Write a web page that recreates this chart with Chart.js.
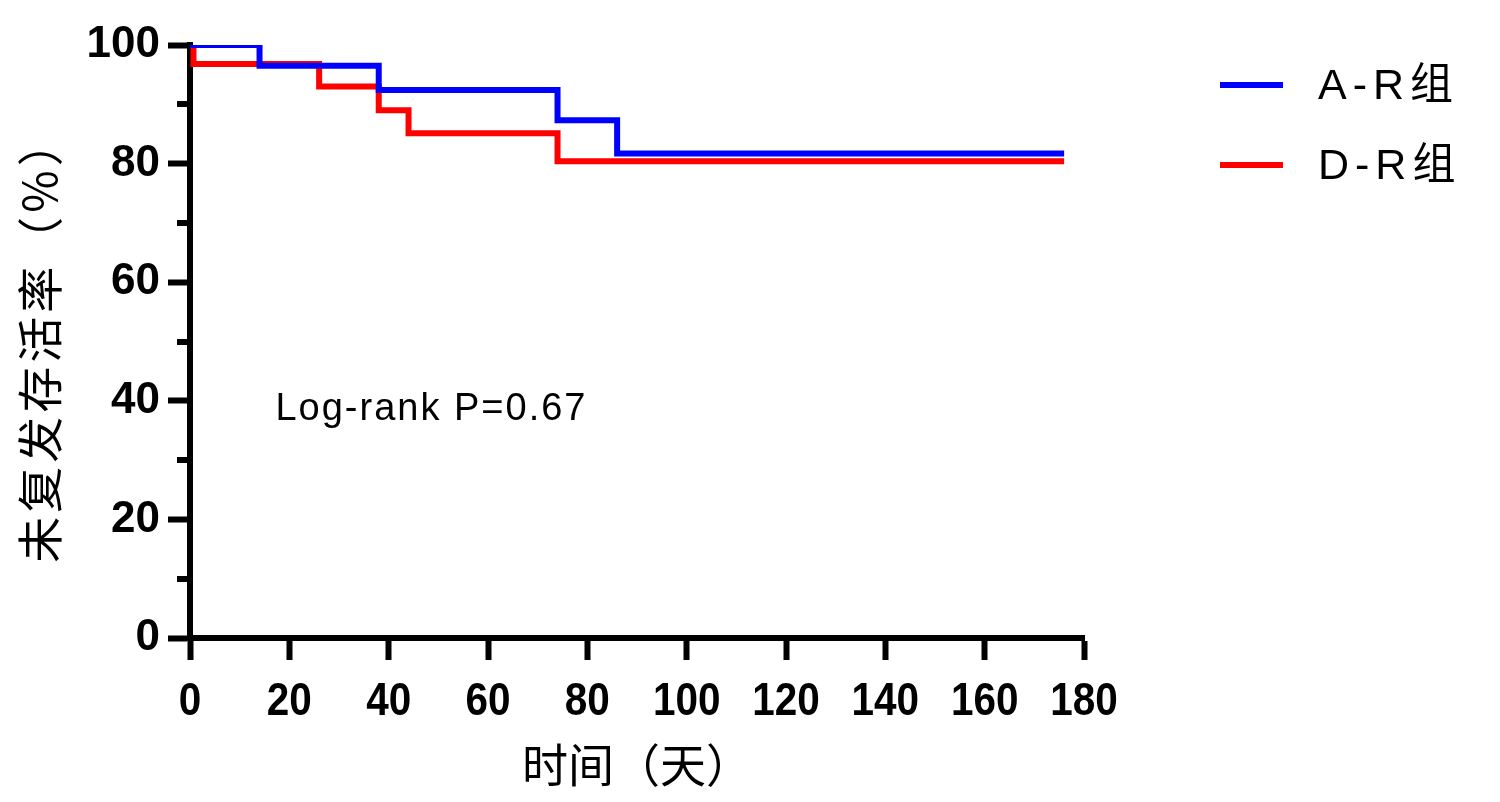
<!DOCTYPE html>
<html>
<head>
<meta charset="utf-8">
<script src="https://cdn.jsdelivr.net/npm/chart.js@4/dist/chart.umd.min.js"></script>
<style>
  html, body { margin: 0; padding: 0; background: #ffffff; }
  #wrap { position: relative; width: 1500px; height: 802px; }
</style>
</head>
<body>
<div id="wrap"><canvas id="c" width="1500" height="802"></canvas></div>
<script>
// ---- data ----
const seriesNames = ['A-R组', 'D-R组'];
const arTimes  = [0, 14, 38, 74, 86, 176];
const arValues = [100, 96.5, 92.4, 87.3, 81.7, 81.7];
const drTimes  = [0, 0.7, 26, 38, 44, 74, 176];
const drValues = [100, 96.8, 93.0, 89.0, 85.1, 80.4, 80.4];
const xTicks = [0, 20, 40, 60, 80, 100, 120, 140, 160, 180];
const yTicks = [0, 20, 40, 60, 80, 100];
const yMinorTicks = [10, 30, 50, 70, 90];
const xTitle = '时间（天）';
const yTitle = '未复发存活率（%）';
const annotationText = 'Log-rank P=0.67';
const annotationPos = { x: 17.2, y: 38.6 };

const toPoints = (t, v) => t.map((x, i) => ({ x: x, y: v[i] }));
const colors = ['#0000ff', '#ff0000'];
const LW = 6;
const cjk = '"Noto Sans CJK SC"';

const extras = {
  id: 'extras',
  afterDraw(chart) {
    const ctx = chart.ctx;
    const xs = chart.scales.x, ys = chart.scales.y;
    ctx.save();
    // minor y ticks
    ctx.strokeStyle = '#000';
    ctx.lineWidth = LW;
    const axisX = xs.left;
    yMinorTicks.forEach(v => {
      const py = Math.round(ys.getPixelForValue(v));
      ctx.beginPath();
      ctx.moveTo(axisX - 13, py);
      ctx.lineTo(axisX, py);
      ctx.stroke();
    });
    // x tick labels (slightly condensed bold)
    ctx.fillStyle = '#000';
    ctx.font = 'bold 46px "Liberation Sans", Arial, sans-serif';
    ctx.textAlign = 'center';
    ctx.textBaseline = 'alphabetic';
    xTicks.forEach(v => {
      const px = xs.getPixelForValue(v);
      ctx.save();
      ctx.translate(px, 715);
      ctx.scale(0.88, 1);
      ctx.fillText(String(v), 0, 0);
      ctx.restore();
    });
    // y axis title
    ctx.save();
    ctx.translate(40, (ys.top + ys.bottom) / 2 - 2);
    ctx.rotate(-Math.PI / 2);
    ctx.font = '46px ' + cjk + ', sans-serif';
    if ('letterSpacing' in ctx) ctx.letterSpacing = '4px';
    ctx.textAlign = 'center';
    ctx.textBaseline = 'middle';
    ctx.fillText(yTitle, 0, 0);
    ctx.restore();
    // annotation
    ctx.font = '38px "Liberation Sans", Arial, sans-serif';
    if ('letterSpacing' in ctx) ctx.letterSpacing = '2px';
    ctx.textBaseline = 'middle';
    ctx.textAlign = 'left';
    ctx.fillText(annotationText, xs.getPixelForValue(annotationPos.x), ys.getPixelForValue(annotationPos.y));
    // legend
    const legY = [85, 165];
    seriesNames.forEach((name, i) => {
      ctx.strokeStyle = colors[i];
      ctx.lineWidth = LW;
      ctx.beginPath();
      ctx.moveTo(1220, legY[i]);
      ctx.lineTo(1283, legY[i]);
      ctx.stroke();
      ctx.fillStyle = '#000';
      ctx.font = '43px "Liberation Sans", Arial, ' + cjk + ', sans-serif';
      if ('letterSpacing' in ctx) ctx.letterSpacing = '6px';
      ctx.textBaseline = 'middle';
      ctx.textAlign = 'left';
      ctx.fillText(name, 1318, legY[i] + 2);
    });
    ctx.restore();
  }
};

new Chart(document.getElementById('c'), {
  type: 'line',
  data: {
    datasets: [
      { label: seriesNames[0], data: toPoints(arTimes, arValues), borderColor: colors[0], borderWidth: LW,
        stepped: 'before', pointRadius: 0, fill: false, borderCapStyle: 'butt', borderJoinStyle: 'miter' },
      { label: seriesNames[1], data: toPoints(drTimes, drValues), borderColor: colors[1], borderWidth: LW,
        stepped: 'before', pointRadius: 0, fill: false, borderCapStyle: 'butt', borderJoinStyle: 'miter' }
    ]
  },
  options: {
    responsive: false,
    animation: false,
    events: [],
    layout: { padding: { left: 0, top: 45, right: 416, bottom: 0 } },
    plugins: { legend: { display: false }, tooltip: { enabled: false } },
    scales: {
      x: {
        type: 'linear', min: 0, max: 180,
        afterFit(s) { s.height = 164; },
        afterBuildTicks(s) { s.ticks = xTicks.map(v => ({ value: v })); },
        border: { display: true, color: '#000', width: LW },
        grid: { display: true, drawOnChartArea: false, drawTicks: true, tickLength: 22, tickWidth: LW, tickColor: '#000' },
        ticks: { display: false },
        title: { display: true, text: xTitle, color: '#000', padding: { top: 0, bottom: 10 },
          font: { family: cjk, size: 46, weight: 'normal' } }
      },
      y: {
        type: 'linear', min: 0, max: 100,
        afterFit(s) { s.width = 190; },
        afterBuildTicks(s) { s.ticks = yTicks.map(v => ({ value: v })); },
        border: { display: true, color: '#000', width: LW },
        grid: { display: true, drawOnChartArea: false, drawTicks: true, tickLength: 22, tickWidth: LW, tickColor: '#000' },
        ticks: { color: '#000', padding: 8,
          font: { family: '"Liberation Sans", Arial, sans-serif', weight: 'bold', size: 44 } },
        title: { display: false }
      }
    }
  },
  plugins: [extras]
});
</script>
</body>
</html>
